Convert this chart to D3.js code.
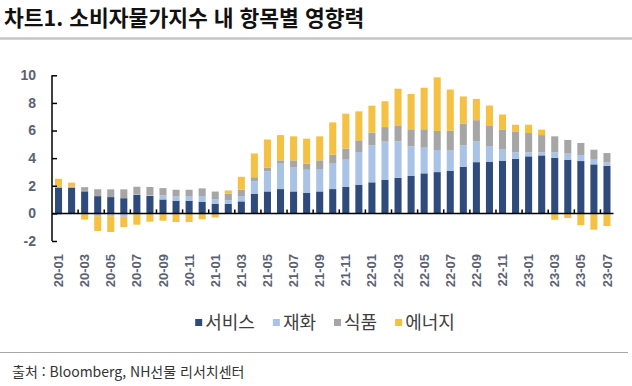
<!DOCTYPE html>
<html lang="ko">
<head>
<meta charset="utf-8">
<script src="https://cdn.jsdelivr.net/npm/d3@7"></script>
<style>
  html, body { margin: 0; padding: 0; background: #fff; }
  svg { display: block; }
  .tick-lbl { font-family: "Liberation Sans", Arial, sans-serif; font-weight: 700; fill: #5a6272; }
  .kr { font-family: "Noto Sans CJK KR", "Noto Sans", sans-serif; }
</style>
</head>
<body>
<svg id="chart" width="632" height="386"></svg>
<script>
/* ───────────────────────────────
   1) Data (read off the picture)
   ─────────────────────────────── */
const months = [
  "20-01","20-02","20-03","20-04","20-05","20-06","20-07","20-08","20-09","20-10","20-11","20-12",
  "21-01","21-02","21-03","21-04","21-05","21-06","21-07","21-08","21-09","21-10","21-11","21-12",
  "22-01","22-02","22-03","22-04","22-05","22-06","22-07","22-08","22-09","22-10","22-11","22-12",
  "23-01","23-02","23-03","23-04","23-05","23-06","23-07"
];

const service = [
  1.85, 1.85, 1.6, 1.25, 1.18, 1.1, 1.35, 1.26, 1.01, 0.92, 0.92, 0.85,
  0.7, 0.7, 0.87, 1.43, 1.59, 1.76, 1.59, 1.5, 1.59, 1.76, 1.91, 2.08,
  2.25, 2.42, 2.58, 2.73, 2.9, 2.99, 3.07, 3.38, 3.71, 3.72, 3.82, 3.95,
  4.13, 4.2, 4.03, 3.89, 3.79, 3.55, 3.45
];
const goods = [
  -0.1, -0.05, 0.03, -0.2, -0.2, -0.25, 0.03, 0.05, 0.29, 0.31, 0.34, 0.41,
  0.33, 0.26, 0.38, 0.9, 1.45, 1.84, 1.77, 1.66, 1.62, 1.84, 1.98, 2.36,
  2.68, 2.78, 2.64, 2.13, 1.86, 1.6, 1.48, 1.56, 1.5, 1.16, 0.8, 0.47,
  0.29, 0.22, 0.39, 0.44, 0.44, 0.34, 0.24
];
const food = [
  0.1, 0.08, 0.27, 0.5, 0.56, 0.64, 0.55, 0.6, 0.53, 0.48, 0.45, 0.55,
  0.55, 0.48, 0.47, 0.29, 0.26, 0.24, 0.48, 0.44, 0.63, 0.65, 0.8, 0.85,
  0.92, 1.05, 1.11, 1.23, 1.33, 1.38, 1.43, 1.55, 1.54, 1.45, 1.46, 1.48,
  1.4, 1.25, 1.16, 0.99, 0.87, 0.72, 0.68
];
const energy = [
  0.55, 0.3, -0.45, -1.08, -1.15, -0.75, -0.82, -0.6, -0.53, -0.62, -0.62, -0.43,
  -0.3, 0.22, 0.93, 1.72, 2.05, 1.83, 1.74, 1.81, 1.74, 2.34, 2.53, 2.1,
  1.95, 1.87, 2.7, 2.56, 3.01, 3.88, 2.99, 1.98, 1.54, 1.48, 1.08, 0.52,
  0.6, 0.4, -0.46, -0.34, -0.86, -1.18, -0.92
];

const seriesNames  = ["서비스", "재화", "식품", "에너지"];
const seriesKeys   = ["service", "goods", "food", "energy"];
const seriesColors = ["#2f4b7c", "#a9c3e6", "#a6a6a6", "#f4c143"];
const yTicks = [-2, 0, 2, 4, 6, 8, 10];

const rows = months.map((m, i) => ({
  month: m, service: service[i], goods: goods[i], food: food[i], energy: energy[i]
}));

/* ───────────────────────────────
   2) Frame: title, rules, source
   ─────────────────────────────── */
const svg = d3.select("#chart");

svg.append("text").attr("class", "kr")
  .attr("x", 4).attr("y", 25.5)
  .attr("font-size", "21.5px").attr("font-weight", 700).attr("fill", "#111")
  .text("차트1. 소비자물가지수 내 항목별 영향력");

svg.append("line")
  .attr("x1", 0).attr("x2", 632).attr("y1", 38.5).attr("y2", 38.5)
  .attr("stroke", "#c4c4c4").attr("stroke-width", 2.5);

svg.append("line")
  .attr("x1", 0).attr("x2", 628).attr("y1", 352.5).attr("y2", 352.5)
  .attr("stroke", "#a8a8a8").attr("stroke-width", 1);

svg.append("text").attr("class", "kr")
  .attr("x", 12).attr("y", 377)
  .attr("font-size", "14px").attr("fill", "#333")
  .text("출처 : Bloomberg, NH선물 리서치센터");

/* ───────────────────────────────
   3) Scales + stacked bars
   ─────────────────────────────── */
const x = d3.scaleBand().domain(months).range([52, 613.5]).paddingInner(0.46).paddingOuter(0.23);
const y = d3.scaleLinear().domain([-2, 10]).range([241, 75.3]);

const stack = d3.stack()
  .keys(seriesKeys)
  .offset(d3.stackOffsetDiverging);
const layers = stack(rows);

svg.append("g")
  .selectAll("g")
  .data(layers)
  .join("g")
  .attr("fill", (d, i) => seriesColors[i])
  .selectAll("rect")
  .data(d => d)
  .join("rect")
  .attr("x", d => x(d.data.month))
  .attr("width", x.bandwidth())
  .attr("y", d => y(Math.max(d[0], d[1])))
  .attr("height", d => Math.abs(y(d[0]) - y(d[1])));

/* ───────────────────────────────
   4) Axes
   ─────────────────────────────── */
// y axis, ticks pointing inward
const yAxis = svg.append("g")
  .attr("transform", "translate(52,0)")
  .call(d3.axisRight(y).tickValues(yTicks).tickSize(5).tickFormat(""));
yAxis.select(".domain").attr("stroke", "#000").attr("stroke-width", 1.5).attr("d", `M0,${y(-2)}V${y(10)}`);
yAxis.selectAll(".tick line").attr("stroke", "#000").attr("stroke-width", 1.5);

svg.append("g")
  .selectAll("text")
  .data(yTicks)
  .join("text")
  .attr("class", "tick-lbl")
  .attr("x", 36).attr("y", d => y(d))
  .attr("dy", "0.35em")
  .attr("text-anchor", "end")
  .attr("font-size", "14px")
  .text(d => d);

// x axis at zero, small ticks between every second month
const step = x.step();
const x0 = x.range()[0];
const tickXs = d3.range(2, months.length, 2).map(k => x0 + k * step);

svg.append("line")
  .attr("x1", 52).attr("x2", 613.5)
  .attr("y1", y(0)).attr("y2", y(0))
  .attr("stroke", "#000").attr("stroke-width", 1.5);

svg.append("g")
  .selectAll("line")
  .data(tickXs)
  .join("line")
  .attr("x1", d => d).attr("x2", d => d)
  .attr("y1", y(0)).attr("y2", y(0) - 4)
  .attr("stroke", "#000").attr("stroke-width", 1.5);

// rotated month labels, every other month
svg.append("g")
  .selectAll("text")
  .data(months.filter((m, i) => i % 2 === 0))
  .join("text")
  .attr("class", "tick-lbl")
  .attr("transform", d => `translate(${x(d) + x.bandwidth() / 2},254) rotate(-90)`)
  .attr("dy", "0.35em")
  .attr("text-anchor", "end")
  .attr("font-size", "13px")
  .text(d => d);

/* ───────────────────────────────
   5) Legend
   ─────────────────────────────── */
const legend = svg.append("g").attr("transform", "translate(0,323)");
const gap = 18;
let lx = 0;
const items = legend.selectAll("g")
  .data(seriesNames)
  .join("g");
items.append("rect")
  .attr("y", -4).attr("width", 7).attr("height", 7)
  .attr("fill", (d, i) => seriesColors[i]);
items.append("text").attr("class", "kr")
  .attr("x", 10).attr("dy", "0.35em")
  .attr("font-size", "18px").attr("fill", "#404040")
  .text(d => d);
items.each(function () {
  d3.select(this).attr("transform", `translate(${lx},0)`);
  lx += 10 + this.querySelector("text").getComputedTextLength() + gap;
});
const legendW = lx - gap;
legend.attr("transform", `translate(${325 - legendW / 2},323)`);
</script>
</body>
</html>
